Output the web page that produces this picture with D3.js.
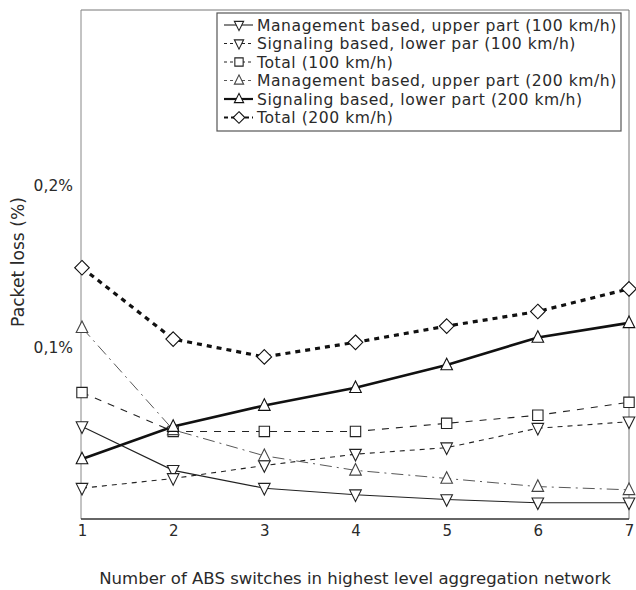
<!DOCTYPE html>
<html>
<head>
<meta charset="utf-8">
<script src="https://cdn.jsdelivr.net/npm/d3@7"></script>
<style>
  html, body { margin: 0; padding: 0; background: #fff; }
  svg { display: block; }
  text { font-family: "DejaVu Sans", "Noto Sans", sans-serif; fill: #2a2a2a; }
</style>
</head>
<body>
<svg id="chart" width="636" height="590"></svg>
<script>
// ---- data ----
const switches = [1, 2, 3, 4, 5, 6, 7];
const mgmt100  = [0.051, 0.024, 0.013, 0.009, 0.006, 0.004, 0.004];
const sig100   = [0.013, 0.019, 0.027, 0.034, 0.038, 0.050, 0.054];
const total100 = [0.072, 0.048, 0.048, 0.048, 0.053, 0.058, 0.066];
const mgmt200  = [0.112, 0.049, 0.033, 0.024, 0.019, 0.014, 0.012];
const sig200   = [0.031, 0.051, 0.064, 0.075, 0.089, 0.106, 0.115];
const total200 = [0.149, 0.105, 0.094, 0.103, 0.113, 0.122, 0.136];
const seriesNames = [
  "Management based, upper part (100 km/h)",
  "Signaling based, lower par (100 km/h)",
  "Total (100 km/h)",
  "Management based, upper part (200 km/h)",
  "Signaling based, lower part (200 km/h)",
  "Total (200 km/h)"
];
const yTickValues = [0.1, 0.2];
const yTickLabels = ["0,1%", "0,2%"];
const xTitle = "Number of ABS switches in highest level aggregation network";
const yTitle = "Packet loss (%)";

// ---- styles (kept separate from data) ----
const styles = [
  { values: mgmt100,  marker: "down",    width: 1.1, dash: null,        color: "#222" },
  { values: sig100,   marker: "down",    width: 1.1, dash: "5,5",       color: "#222" },
  { values: total100, marker: "square",  width: 1.1, dash: "7,7",       color: "#222" },
  { values: mgmt200,  marker: "up",      width: 0.9, dash: "12,5,2,5",  color: "#444" },
  { values: sig200,   marker: "up",      width: 2.6, dash: null,        color: "#111" },
  { values: total200, marker: "diamond", width: 3.2, dash: "5,5",       color: "#111" }
];

const svg = d3.select("#chart");
const plot = { left: 81, right: 629, top: 10, bottom: 519 };

const x = d3.scaleLinear().domain([1, 7]).range([82, plot.right]);
const y = d3.scaleLinear().domain([-0.006, 0.308]).range([plot.bottom, plot.top]);

// frame
svg.append("line").attr("x1", plot.left).attr("x2", plot.right).attr("y1", plot.top).attr("y2", plot.top)
  .attr("stroke", "#777").attr("stroke-width", 1);
svg.append("line").attr("x1", plot.left).attr("x2", plot.left).attr("y1", plot.top).attr("y2", plot.bottom)
  .attr("stroke", "#888").attr("stroke-width", 1);
svg.append("line").attr("x1", plot.right).attr("x2", plot.right).attr("y1", plot.top).attr("y2", plot.bottom)
  .attr("stroke", "#777").attr("stroke-width", 1);
svg.append("line").attr("x1", plot.left).attr("x2", plot.right).attr("y1", plot.bottom).attr("y2", plot.bottom)
  .attr("stroke", "#333").attr("stroke-width", 1.6);

const FONT = '"DejaVu Sans", "Noto Sans", sans-serif';

// x axis tick labels via d3 axis
const xAxis = d3.axisBottom(x).tickValues(switches).tickSize(0).tickPadding(0).tickFormat(d3.format("d"));
const gx = svg.append("g").attr("transform", `translate(0,${plot.bottom + 6})`).call(xAxis);
gx.select(".domain").remove();
gx.selectAll("text").style("font-size", "15px").attr("fill", "#2a2a2a").style("font-family", FONT);

// y axis tick labels
const yAxis = d3.axisLeft(y).tickValues(yTickValues).tickSize(0).tickPadding(0)
  .tickFormat((d, i) => yTickLabels[i]);
const gy = svg.append("g").attr("transform", `translate(${plot.left - 8},0)`).call(yAxis);
gy.select(".domain").remove();
gy.selectAll("text").style("font-size", "15.5px").attr("fill", "#3a3a3a").style("font-family", FONT);

// helper: fit a text element to a target width by font size
function fitWidth(sel, target, base) {
  sel.style("font-size", base + "px");
  const w = sel.node().getComputedTextLength();
  sel.style("font-size", (base * target / w).toFixed(2) + "px");
}

// titles
const xt = svg.append("text").attr("x", (plot.left + plot.right) / 2).attr("y", 584)
  .attr("text-anchor", "middle").text(xTitle);
fitWidth(xt, 512, 16);
const yt = svg.append("text").attr("transform", "translate(24,262) rotate(-90)")
  .attr("text-anchor", "middle").text(yTitle);
fitWidth(yt, 130, 17);

// marker drawing
function drawMarker(g, type, cx, cy, color, k) {
  k = k || 1;
  const s = 5.8 * k;
  let path;
  if (type === "down") {
    path = `M${cx - s},${cy - s + 1}L${cx + s},${cy - s + 1}L${cx},${cy + s + 1}Z`;
  } else if (type === "up") {
    path = `M${cx - s},${cy + s - 1}L${cx + s},${cy + s - 1}L${cx},${cy - s - 1}Z`;
  } else if (type === "square") {
    const h = 5.2 * k;
    path = `M${cx - h},${cy - h}H${cx + h}V${cy + h}H${cx - h}Z`;
  } else {
    const h = 7.3 * k;
    path = `M${cx},${cy - h}L${cx + h},${cy}L${cx},${cy + h}L${cx - h},${cy}Z`;
  }
  g.append("path").attr("d", path).attr("fill", "#fff").attr("stroke", color).attr("stroke-width", 1.1);
}

const line = d3.line().x((d, i) => x(switches[i])).y(d => y(d));

styles.forEach(st => {
  svg.append("path").datum(st.values).attr("d", line)
    .attr("fill", "none").attr("stroke", st.color).attr("stroke-width", st.width)
    .attr("stroke-dasharray", st.dash);
});
styles.forEach(st => {
  const g = svg.append("g");
  st.values.forEach((v, i) => drawMarker(g, st.marker, x(switches[i]), y(v), st.color, 1));
});

// legend
const leg = { left: 217, top: 13, right: 621, bottom: 131, rowStart: 25, rowStep: 18.5 };
svg.append("rect").attr("x", leg.left).attr("y", leg.top)
  .attr("width", leg.right - leg.left).attr("height", leg.bottom - leg.top)
  .attr("fill", "#fff").attr("stroke", "#555").attr("stroke-width", 1.2);
const lg = svg.append("g");
const legendFont = 15.6;
const texts = [];
seriesNames.forEach((name, i) => {
  const st = styles[i];
  const cy = leg.rowStart + i * leg.rowStep;
  lg.append("line").attr("x1", 224).attr("x2", 253).attr("y1", cy).attr("y2", cy)
    .attr("stroke", st.color).attr("stroke-width", Math.min(st.width, 2.2))
    .attr("stroke-dasharray", st.dash ? (st.marker === "diamond" ? "4,3" : "3,3") : null);
  drawMarker(lg, st.marker, 239, cy, st.color, 0.8);
  texts.push(lg.append("text").attr("x", 257).attr("y", cy).attr("dy", "0.36em")
    .style("font-size", legendFont + "px").text(name));
});
// letter spacing so that the longest row spans the same width as in the original
const w0 = texts[0].node().getComputedTextLength();
const ls = Math.max(0, (360 - w0) / seriesNames[0].length);
texts.forEach(t => t.style("letter-spacing", ls.toFixed(2) + "px"));
</script>
</body>
</html>
